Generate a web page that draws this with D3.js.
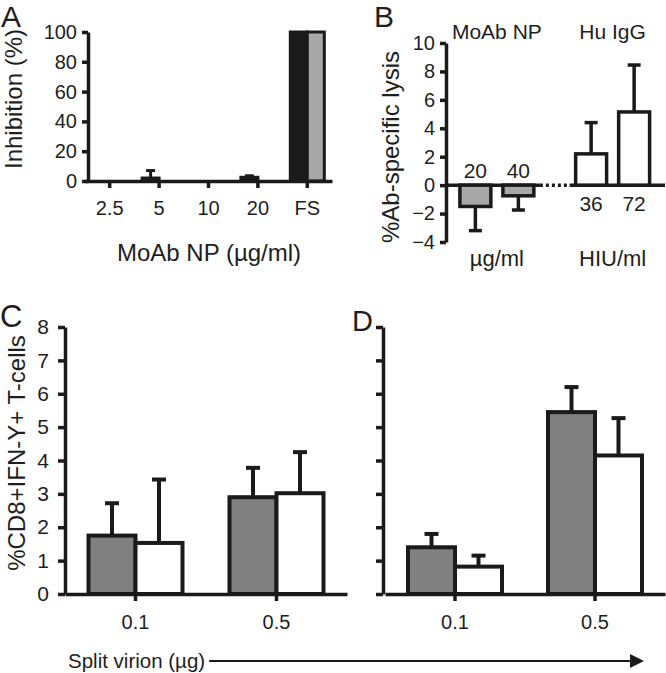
<!DOCTYPE html>
<html>
<head>
<meta charset="utf-8">
<script src="https://cdn.jsdelivr.net/npm/d3@7"></script>
<style>
  html, body { margin: 0; padding: 0; background: #fff; }
  svg text { font-family: "Liberation Sans", Arial, Helvetica, sans-serif; fill: #1e1e1e; }
</style>
</head>
<body>
<svg id="chart" width="666" height="673"></svg>
<script>
// ---------- Panel A data ----------
const A_categories = ["2.5", "5", "10", "20", "FS"];
const A_black = [0, 2, 0, 2.5, 100];
const A_blackErr = [0, 5, 0, 1, 0];
const A_gray = [0, 0, 0, 0, 100];
const A_yTicks = [0, 20, 40, 60, 80, 100];

// ---------- Panel B data ----------
const B_groups = ["MoAb NP", "Hu IgG"];
const B_doses = [["20", "40"], ["36", "72"]];
const B_units = ["µg/ml", "HIU/ml"];
const B_values = [[-1.5, -0.75], [2.2, 5.15]];
const B_errors = [[1.7, 1.0], [2.2, 3.3]];
const B_yTicks = [-4, -2, 0, 2, 4, 6, 8, 10];

// ---------- Panels C / D data ----------
const CD_categories = ["0.1", "0.5"];
const CD_yTicks = [0, 1, 2, 3, 4, 5, 6, 7, 8];
const C_gray = [1.75, 2.9];
const C_grayErr = [0.97, 0.88];
const C_white = [1.53, 3.02];
const C_whiteErr = [1.9, 1.23];
const D_gray = [1.4, 5.45];
const D_grayErr = [0.4, 0.75];
const D_white = [0.82, 4.15];
const D_whiteErr = [0.33, 1.12];

const INK = "#1a1a1a";
const svg = d3.select("#chart");
svg.append("rect").attr("width", 666).attr("height", 673).attr("fill", "#fff");

function styleAxis(g, w) {
  g.select(".domain").attr("stroke", INK).attr("stroke-width", w);
  g.selectAll(".tick line").attr("stroke", INK).attr("stroke-width", w);
  g.selectAll(".tick text").attr("fill", "#1e1e1e");
}

function errorBar(g, x, y0, y1, cap, w) {
  g.append("line").attr("x1", x).attr("x2", x).attr("y1", y0).attr("y2", y1)
    .attr("stroke", INK).attr("stroke-width", w);
  g.append("line").attr("x1", x - cap / 2).attr("x2", x + cap / 2).attr("y1", y1).attr("y2", y1)
    .attr("stroke", INK).attr("stroke-width", w);
}

// =================== Panel A ===================
{
  const g = svg.append("g");
  const y = d3.scaleLinear().domain([0, 100]).range([181, 32]);
  const x = d3.scaleBand().domain(A_categories).range([85, 332]);
  const inner = d3.scaleBand().domain([0, 1]).range([-17, 17]);

  A_categories.forEach((c, i) => {
    const cx = x(c) + x.bandwidth() / 2;
    if (A_blackErr[i] > 0) {
      errorBar(g, cx + inner(0) + inner.bandwidth() / 2, y(A_black[i]), y(A_black[i] + A_blackErr[i]), 9, 3);
    }
    g.append("rect").attr("x", cx + inner(0)).attr("width", inner.bandwidth())
      .attr("y", y(A_black[i])).attr("height", y(0) - y(A_black[i]))
      .attr("fill", "#1a1a1a").attr("stroke", INK).attr("stroke-width", 3);
    if (A_gray[i] > 0) {
      g.append("rect").attr("x", cx + inner(1)).attr("width", inner.bandwidth())
        .attr("y", y(A_gray[i])).attr("height", y(0) - y(A_gray[i]))
        .attr("fill", "#a8a8a8").attr("stroke", INK).attr("stroke-width", 3);
    }
  });

  const ya = g.append("g").attr("transform", "translate(88,0)")
    .call(d3.axisLeft(y).tickValues(A_yTicks).tickSize(6).tickSizeOuter(0).tickPadding(5));
  ya.selectAll("text").attr("font-size", 20);
  styleAxis(ya, 3.5);

  const xa = g.append("g").attr("transform", "translate(0,181)")
    .call(d3.axisBottom(x).tickSize(7).tickSizeOuter(0).tickPadding(13));
  xa.selectAll("text").attr("font-size", 20);
  styleAxis(xa, 3.5);

  g.append("text").attr("x", 209).attr("y", 261).attr("text-anchor", "middle")
    .attr("font-size", 24).text("MoAb NP (µg/ml)");
  g.append("text").attr("transform", "translate(22,99) rotate(-90)").attr("text-anchor", "middle")
    .attr("font-size", 24).text("Inhibition (%)");
  g.append("text").attr("x", 1).attr("y", 27).attr("font-size", 30).text("A");
}

// =================== Panel B ===================
{
  const g = svg.append("g");
  const y = d3.scaleLinear().domain([-4, 10]).range([242, 43]);
  const outer = d3.scaleBand().domain(B_groups).range([439, 670.5]);
  const fills = ["#a8a8a8", "#ffffff"];

  const y0 = y(0);
  const innerOf = gi => {
    const c = outer(B_groups[gi]) + outer.bandwidth() / 2;
    return d3.scaleBand().domain(B_doses[gi]).range([c - 43, c + 43]).paddingInner(0.28).paddingOuter(0.14);
  };
  const in0 = innerOf(0), in1 = innerOf(1);
  g.append("line").attr("x1", 446).attr("x2", in0.range()[1]).attr("y1", y0).attr("y2", y0)
    .attr("stroke", INK).attr("stroke-width", 3.5);
  g.append("line").attr("x1", in0.range()[1]).attr("x2", in1.range()[0]).attr("y1", y0).attr("y2", y0)
    .attr("stroke", INK).attr("stroke-width", 3.5).attr("stroke-dasharray", "3,3");
  g.append("line").attr("x1", in1.range()[0]).attr("x2", 665).attr("y1", y0).attr("y2", y0)
    .attr("stroke", INK).attr("stroke-width", 3.5);

  B_groups.forEach((grp, gi) => {
    const inner = gi === 0 ? in0 : in1;
    const gc = outer(grp) + outer.bandwidth() / 2;
    B_doses[gi].forEach((d, di) => {
      const v = B_values[gi][di], e = B_errors[gi][di];
      const bx = inner(d), bw = inner.bandwidth(), cx = bx + bw / 2;
      const end = v >= 0 ? v + e : v - e;
      errorBar(g, cx, y(v), y(end), 13, 3.5);
      g.append("rect").attr("x", bx).attr("width", bw)
        .attr("y", Math.min(y(v), y0)).attr("height", Math.abs(y(v) - y0))
        .attr("fill", fills[gi]).attr("stroke", INK).attr("stroke-width", 3.5);
      g.append("text").attr("x", cx).attr("y", v < 0 ? y0 - 7 : y0 + 26)
        .attr("text-anchor", "middle").attr("font-size", 21).text(d);
    });
    g.append("text").attr("x", gc).attr("y", 39).attr("text-anchor", "middle")
      .attr("font-size", 21).text(grp);
    g.append("text").attr("x", gc).attr("y", 266).attr("text-anchor", "middle")
      .attr("font-size", 22).text(B_units[gi]);
  });

  const ya = g.append("g").attr("transform", "translate(446,0)")
    .call(d3.axisLeft(y).tickValues(B_yTicks).tickSize(6).tickSizeOuter(0).tickPadding(5));
  ya.selectAll("text").attr("font-size", 20);
  styleAxis(ya, 3.5);

  g.append("text").attr("transform", "translate(399,147) rotate(-90)").attr("text-anchor", "middle")
    .attr("font-size", 24).text("%Ab-specific lysis");
  g.append("text").attr("x", 374).attr("y", 27).attr("font-size", 30).text("B");
}

// =================== Panels C & D ===================
function drawCD(opts) {
  const g = svg.append("g");
  const y = d3.scaleLinear().domain([0, 8]).range([594, 327]);
  const x = d3.scaleBand().domain(CD_categories).range(opts.xr);
  const bw = 47;
  CD_categories.forEach((c, i) => {
    const cx = x(c) + x.bandwidth() / 2;
    errorBar(g, cx - bw / 2, y(opts.gray[i]), y(opts.gray[i] + opts.grayErr[i]), 14, 4);
    g.append("rect").attr("x", cx - bw).attr("width", bw)
      .attr("y", y(opts.gray[i])).attr("height", y(0) - y(opts.gray[i]))
      .attr("fill", "#808080").attr("stroke", INK).attr("stroke-width", 4);
    errorBar(g, cx + bw / 2, y(opts.white[i]), y(opts.white[i] + opts.whiteErr[i]), 14, 4);
    g.append("rect").attr("x", cx).attr("width", bw)
      .attr("y", y(opts.white[i])).attr("height", y(0) - y(opts.white[i]))
      .attr("fill", "#ffffff").attr("stroke", INK).attr("stroke-width", 4);
  });

  const ya = g.append("g").attr("transform", `translate(${opts.yx},0)`)
    .call(d3.axisLeft(y).tickValues(CD_yTicks).tickSize(7).tickSizeOuter(0).tickPadding(9)
      .tickFormat(opts.labels ? d3.format("d") : () => ""));
  ya.selectAll("text").attr("font-size", 21);
  styleAxis(ya, 3.5);

  const xa = g.append("g").attr("transform", "translate(0,594)")
    .call(d3.axisBottom(x).tickSize(7).tickSizeOuter(0).tickPadding(14));
  xa.selectAll("text").attr("font-size", 20);
  styleAxis(xa, 3.5);
  if (opts.tickColor) xa.selectAll(".tick text").attr("fill", opts.tickColor);
  return g;
}

const gC = drawCD({ xr: [65, 347], yx: 65, gray: C_gray, grayErr: C_grayErr, white: C_white, whiteErr: C_whiteErr, labels: true });
gC.append("text").attr("transform", "translate(25,453) rotate(-90)").attr("text-anchor", "middle")
  .attr("font-size", 24).text("%CD8+IFN-Y+ T-cells");
gC.append("text").attr("x", 0).attr("y", 327).attr("font-size", 31).text("C");

const gD = drawCD({ xr: [385, 665], yx: 383, gray: D_gray, grayErr: D_grayErr, white: D_white, whiteErr: D_whiteErr, labels: false, tickColor: "#3a3a3a" });
gD.append("text").attr("x", 352).attr("y", 331).attr("font-size", 29).text("D");

// ---------- shared x title with arrow ----------
const st = svg.append("text").attr("x", 68).attr("y", 668).attr("font-size", 20.5).text("Split virion (µg)");
const stEnd = 68 + st.node().getComputedTextLength();
svg.append("defs").append("marker").attr("id", "arrow").attr("viewBox", "0 0 10 10")
  .attr("refX", 0).attr("refY", 5).attr("markerWidth", 9).attr("markerHeight", 7)
  .attr("markerUnits", "strokeWidth").attr("orient", "auto")
  .append("path").attr("d", "M0,0 L10,5 L0,10 Z").attr("fill", INK);
svg.append("line").attr("x1", stEnd + 4).attr("x2", 630).attr("y1", 661).attr("y2", 661)
  .attr("stroke", INK).attr("stroke-width", 2).attr("marker-end", "url(#arrow)");
</script>
</body>
</html>
